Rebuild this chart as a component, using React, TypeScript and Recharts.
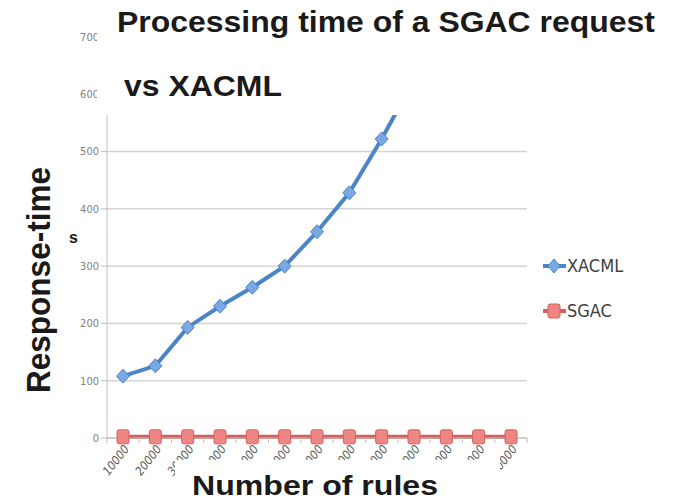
import { CartesianGrid, Legend, Line, LineChart, XAxis, YAxis } from "recharts";

const rules = [
  "10000", "20000", "30000", "40000", "50000", "60000", "70000",
  "80000", "90000", "100000", "110000", "120000", "130000",
];
const xacmlTimes = [108, 126, 193, 230, 263, 300, 360, 428, 522, 625, null, null, null];
const sgacTimes = [2, 2, 2, 2, 2, 2, 2, 2, 2, 2, 2, 2, 2];
const yTicks = [0, 100, 200, 300, 400, 500, 600, 700];

const data = rules.map((r, i) => ({
  rules: r,
  XACML: xacmlTimes[i],
  SGAC: sgacTimes[i],
}));

const BLUE = "#4b85c5";
const BLUE_FILL = "#7aa8e2";
const RED = "#d2605b";
const RED_FILL = "#ee8784";
const NARROW = "'Liberation Sans Narrow', 'DejaVu Sans Condensed', sans-serif";
const BOLD = "'Liberation Sans', Arial, sans-serif";

function Diamond(props: any) {
  const { cx, cy, index } = props;
  if (cx == null || cy == null) return <g key={`d${index}`} />;
  return (
    <path
      key={`d${index}`}
      d={`M${cx},${cy - 7}L${cx + 6.5},${cy}L${cx},${cy + 7}L${cx - 6.5},${cy}Z`}
      fill={BLUE_FILL}
      stroke={BLUE}
      strokeWidth={1}
    />
  );
}

function Square(props: any) {
  const { cx, cy, index } = props;
  if (cx == null || cy == null) return <g key={`s${index}`} />;
  return (
    <rect
      key={`s${index}`}
      x={cx - 6}
      y={cy - 7}
      width={12}
      height={14}
      rx={2}
      fill={RED_FILL}
      stroke={RED}
      strokeWidth={1}
    />
  );
}

function RuleTick(props: any) {
  const { x, y, payload, index } = props;
  const axisY = y - 8;
  const half = 16.2;
  return (
    <g>
      <line x1={x - half} y1={axisY} x2={x - half} y2={axisY + 5} stroke="#bfbfbf" />
      {index === rules.length - 1 && (
        <line x1={x + half} y1={axisY} x2={x + half} y2={axisY + 5} stroke="#bfbfbf" />
      )}
      <text
        transform={`translate(${x + 4},${y + 1}) rotate(-52)`}
        textAnchor="end"
        dominantBaseline="middle"
        fontSize={12}
        fontStyle="italic"
        fontFamily={NARROW}
        fill="#595959"
      >
        {payload.value}
      </text>
    </g>
  );
}

function LegendBox() {
  const row = (name: string, color: string, marker: JSX.Element) => (
    <div style={{ display: "flex", alignItems: "center", height: 22, marginBottom: 23 }}>
      <svg width={26} height={16}>
        <line x1={2} y1={8} x2={25} y2={8} stroke={color} strokeWidth={4} />
        {marker}
      </svg>
      <span>{name}</span>
    </div>
  );
  return (
    <div
      style={{
        fontFamily: NARROW,
        fontSize: 18,
        color: "#404040",
        lineHeight: "22px",
        whiteSpace: "nowrap",
        width: 120,
      }}
    >
      {row(
        "XACML",
        BLUE,
        <path d="M13,1L19,8L13,15L7,8Z" fill={BLUE_FILL} stroke={BLUE} strokeWidth={1} />
      )}
      {row(
        "SGAC",
        RED,
        <rect x={7} y={1} width={12} height={14} rx={2} fill={RED_FILL} stroke={RED} strokeWidth={1} />
      )}
    </div>
  );
}

export default function App() {
  return (
    <div
      style={{
        position: "absolute",
        left: 0,
        top: 0,
        width: 684,
        height: 500,
        background: "#fff",
      }}
    >
      <LineChart
        width={684}
        height={500}
        data={data}
        margin={{ top: 37, right: 157, bottom: 0, left: 0 }}
      >
        <CartesianGrid vertical={false} stroke="#d4d4d4" strokeWidth={1.5} />
        <XAxis
          dataKey="rules"
          height={62}
          padding={{ left: 16, right: 16 }}
          interval={0}
          tickLine={false}
          stroke="#bfbfbf"
          tick={<RuleTick />}
        />
        <YAxis
          width={107}
          domain={[0, 700]}
          ticks={yTicks}
          interval={0}
          stroke="#bfbfbf"
          tick={{ fontSize: 11, fontFamily: NARROW, fill: "#7f7f7f" }}
        />
        <Legend
          layout="vertical"
          verticalAlign="top"
          align="left"
          content={<LegendBox />}
          wrapperStyle={{ left: 541, top: 255, width: 0, height: 0, overflow: "visible" }}
        />
        <Line
          dataKey="XACML"
          stroke={BLUE}
          strokeWidth={4}
          dot={<Diamond />}
          activeDot={false}
          isAnimationActive={false}
        />
        <Line
          dataKey="SGAC"
          stroke={RED}
          strokeWidth={4}
          dot={<Square />}
          activeDot={false}
          isAnimationActive={false}
        />
      </LineChart>
      <svg
        width={684}
        height={500}
        style={{ position: "absolute", left: 0, top: 0, pointerEvents: "none" }}
      >
        <rect x={97} y={0} width={587} height={115} fill="#fff" />
        <text x={117} y={32} fontFamily={BOLD} fontWeight="bold" fontSize={29} fill="#1a1a1a"
          textLength={538} lengthAdjust="spacingAndGlyphs">
          Processing time of a SGAC request
        </text>
        <text x={124} y={96} fontFamily={BOLD} fontWeight="bold" fontSize={29} fill="#1a1a1a"
          textLength={158} lengthAdjust="spacingAndGlyphs">
          vs XACML
        </text>
        <rect x={175} y={460} width={325} height={40} fill="#fff" />
        <text x={192} y={495} fontFamily={BOLD} fontWeight="bold" fontSize={28} fill="#1a1a1a"
          textLength={246} lengthAdjust="spacingAndGlyphs">
          Number of rules
        </text>
        <text
          transform="translate(50,393) rotate(-90)"
          fontFamily={BOLD}
          fontWeight="bold"
          fontSize={34}
          fill="#1a1a1a"
          textLength={226}
          lengthAdjust="spacingAndGlyphs"
        >
          Response-time
        </text>
        <text x={69} y={243} fontFamily={BOLD} fontWeight="bold" fontSize={16} fill="#1a1a1a">
          s
        </text>
      </svg>
    </div>
  );
}
